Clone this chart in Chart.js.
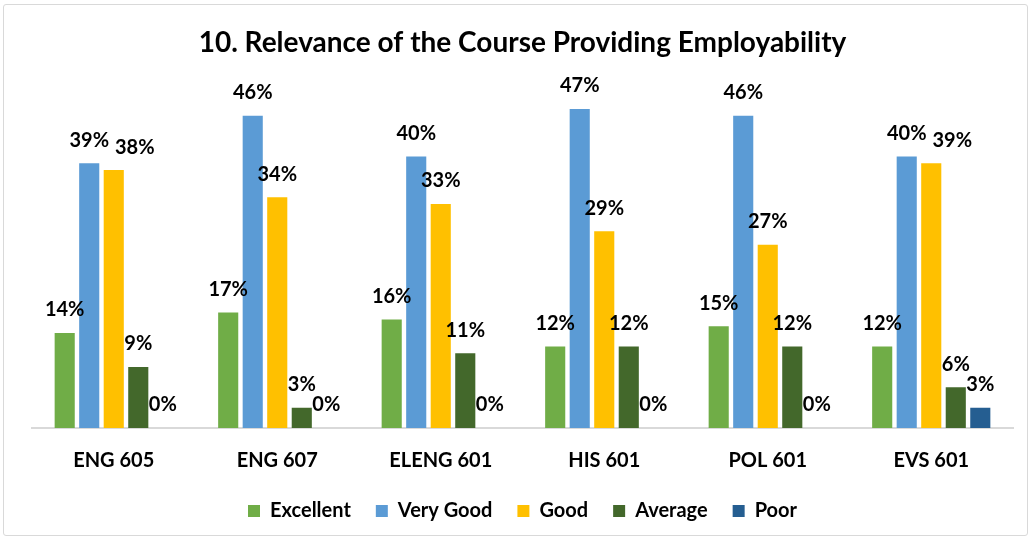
<!DOCTYPE html>
<html>
<head>
<meta charset="utf-8">
<script src="https://cdn.jsdelivr.net/npm/chart.js@4"></script>
<style>
  body { margin: 0; background: #fff; }
  #wrap {
    position: absolute; left: 3px; top: 4px;
    width: 1025px; height: 532px;
    border: 1px solid #d9d9d9; border-radius: 3px;
    box-sizing: border-box;
  }
</style>
</head>
<body>
<div id="wrap"><canvas id="myChart"></canvas></div>
<script>
const ctx = document.getElementById("myChart").getContext("2d");

const labels = ["ENG 605", "ENG 607", "ELENG 601", "HIS 601", "POL 601", "EVS 601"];

const excellent = [14, 17, 16, 12, 15, 12];
const veryGood = [39, 46, 40, 47, 46, 40];
const good = [38, 34, 33, 29, 27, 39];
const average = [9, 3, 11, 12, 12, 6];
const poor = [0, 0, 0, 0, 0, 3];

const FONT = "Lato, 'Open Sans', sans-serif";

// % labels above each bar, pushed right when two labels collide (like Excel does)
const barLabels = {
  id: "barLabels",
  afterDatasetsDraw(chart) {
    const c = chart.ctx;
    const n = chart.data.labels.length;
    c.save();
    c.font = "bold 20px " + FONT;
    c.fillStyle = "#000";
    c.textAlign = "left";
    c.textBaseline = "middle";
    for (let j = 0; j < n; j++) {
      let prev = null;
      chart.data.datasets.forEach((ds, i) => {
        const bar = chart.getDatasetMeta(i).data[j];
        const txt = ds.data[j] + "%";
        const w = c.measureText(txt).width;
        let x = bar.x - w / 2;
        const y = bar.y - 23;
        if (prev && x < prev.right && Math.abs(y - prev.y) < 20) {
          x = prev.right + 6;
        }
        c.fillText(txt, x, y);
        prev = { right: x + w, y: y };
      });
    }
    c.restore();
  },
};

const data = {
  labels,
  datasets: [
    { label: "Excellent", data: excellent, backgroundColor: "#70AD47" },
    { label: "Very Good", data: veryGood, backgroundColor: "#5B9BD5" },
    { label: "Good", data: good, backgroundColor: "#FFC000" },
    { label: "Average", data: average, backgroundColor: "#43682B" },
    { label: "Poor", data: poor, backgroundColor: "#255E91" },
  ],
};

const config = {
  type: "bar",
  data: data,
  plugins: [barLabels],
  options: {
    responsive: true,
    maintainAspectRatio: false,
    animation: false,
    categoryPercentage: 0.75,
    barPercentage: 0.82,
    layout: { padding: { left: 28, right: 14, top: 0, bottom: 4 } },
    plugins: {
      title: {
        display: true,
        text: "10. Relevance of the Course Providing Employability",
        color: "#000",
        font: { family: FONT, size: 28, weight: "bold" },
        padding: { top: 21, bottom: 29 },
      },
      legend: {
        position: "bottom",
        labels: {
          color: "#000",
          font: { family: FONT, size: 20, weight: "bold" },
          boxWidth: 12,
          boxHeight: 12,
          padding: 25,
        },
      },
      tooltip: { enabled: false },
    },
    scales: {
      x: {
        grid: { display: false, tickLength: 18 },
        border: { display: true, color: "#d9d9d9", width: 2 },
        ticks: {
          color: "#000",
          font: { family: FONT, size: 20, weight: "bold" },
          padding: 3,
        },
      },
      y: {
        display: false,
        min: 0,
        max: 50,
      },
    },
  },
};

const myChart = new Chart(ctx, config);
</script>
</body>
</html>
